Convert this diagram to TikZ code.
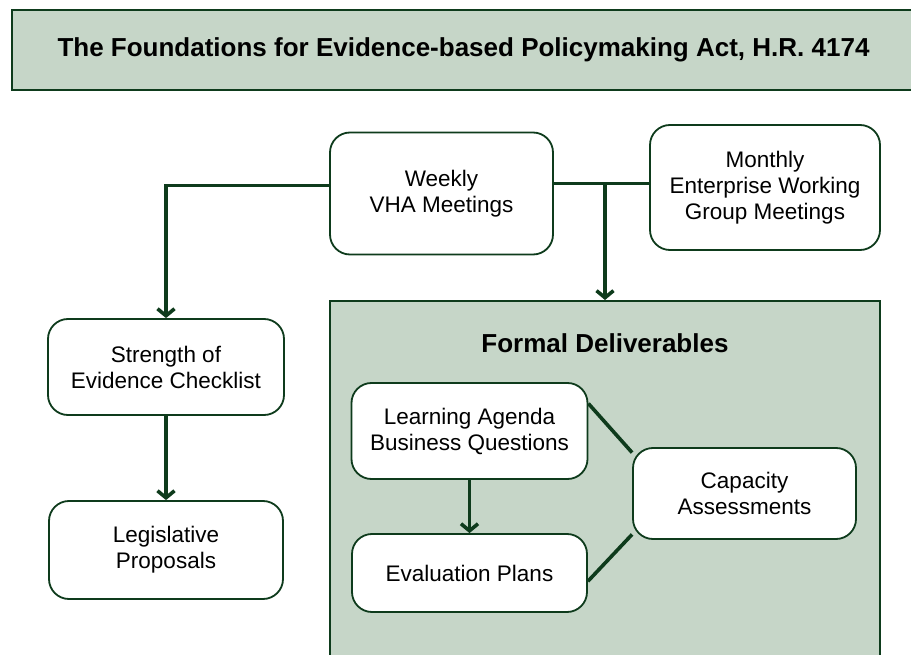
\documentclass[tikz,border=0pt]{standalone}
\usepackage{fontspec}
\setmainfont{Liberation Sans}
\usetikzlibrary{arrows.meta}
\definecolor{darkgreen}{HTML}{0E3B1C}
\definecolor{sage}{HTML}{C6D6C8}

\begin{document}
\begin{tikzpicture}[x = 1pt, y = -1pt,
	 box/.style = {draw = darkgreen, line width = 1.8pt, fill = white, rounded corners = 20pt, align = center, inner sep = 0pt, font = \fontsize{22.5}{26}\selectfont},
	 panel/.style = {draw = darkgreen, line width = 1.8pt, fill = sage, inner sep = 0pt},
	 link/.style = {draw = darkgreen, line width = 3.6pt},
	 arrow/.style = {link, -{Straight Barb[length = 7pt, width = 17pt]}}]
	 \useasboundingbox (0, 0) rectangle (911, 655);
	 \clip (0, 0) rectangle (911, 655);
	 
	 \node[panel, minimum width = 913pt, minimum height = 80pt, font = \fontsize{26}{30}\selectfont\bfseries] (title) at (468.5, 50) {The Foundations for Evidence-based Policymaking Act, H.R. 4174\hspace*{10pt}};
	 
	 \node[box, minimum width = 223pt, minimum height = 122pt] (weekly) at (441.5, 193.5) {Weekly\\VHA Meetings};
	 \node[box, minimum width = 230pt, minimum height = 125pt] (monthly) at (765, 187.5) {Monthly\\Enterprise Working\\Group Meetings};
	 
	 \node[box, minimum width = 236pt, minimum height = 96pt] (strength) at (166, 367) {Strength of\\Evidence Checklist};
	 \node[box, minimum width = 234pt, minimum height = 98pt] (legislative) at (166, 550) {Legislative\\Proposals};
	 
	 \node[panel, minimum width = 550pt, minimum height = 400pt, anchor = north] (formal) at (605, 300) {};
	 \node[font = \fontsize{26}{30}\selectfont\bfseries] (formaltitle) at (605, 343) {Formal Deliverables};
	 
	 \node[box, minimum width = 236pt, minimum height = 96pt] (agenda) at (469.5, 431) {Learning Agenda\\Business Questions};
	 \node[box, minimum width = 235pt, minimum height = 78pt] (plans) at (469.5, 573) {Evaluation Plans};
	 \node[box, minimum width = 223pt, minimum height = 91pt] (capacity) at (744.5, 493.5) {Capacity\\Assessments};
	 
	 \draw[arrow] (weekly.176) -| (strength.north);
	 \draw[link] (weekly.5) -- (weekly.5 -| monthly.west);
	 \draw[arrow] (weekly.5 -| formal.north) -- (formal.north);
	 \draw[arrow] (strength.south) -- (legislative.north);
	 
	 \draw[arrow] (agenda.south) -- (plans.north);
	 \draw[link] (agenda.13) -- (capacity.160);
	 \draw[link] (plans.-4) -- (capacity.200);
\end{tikzpicture}
\end{document}
